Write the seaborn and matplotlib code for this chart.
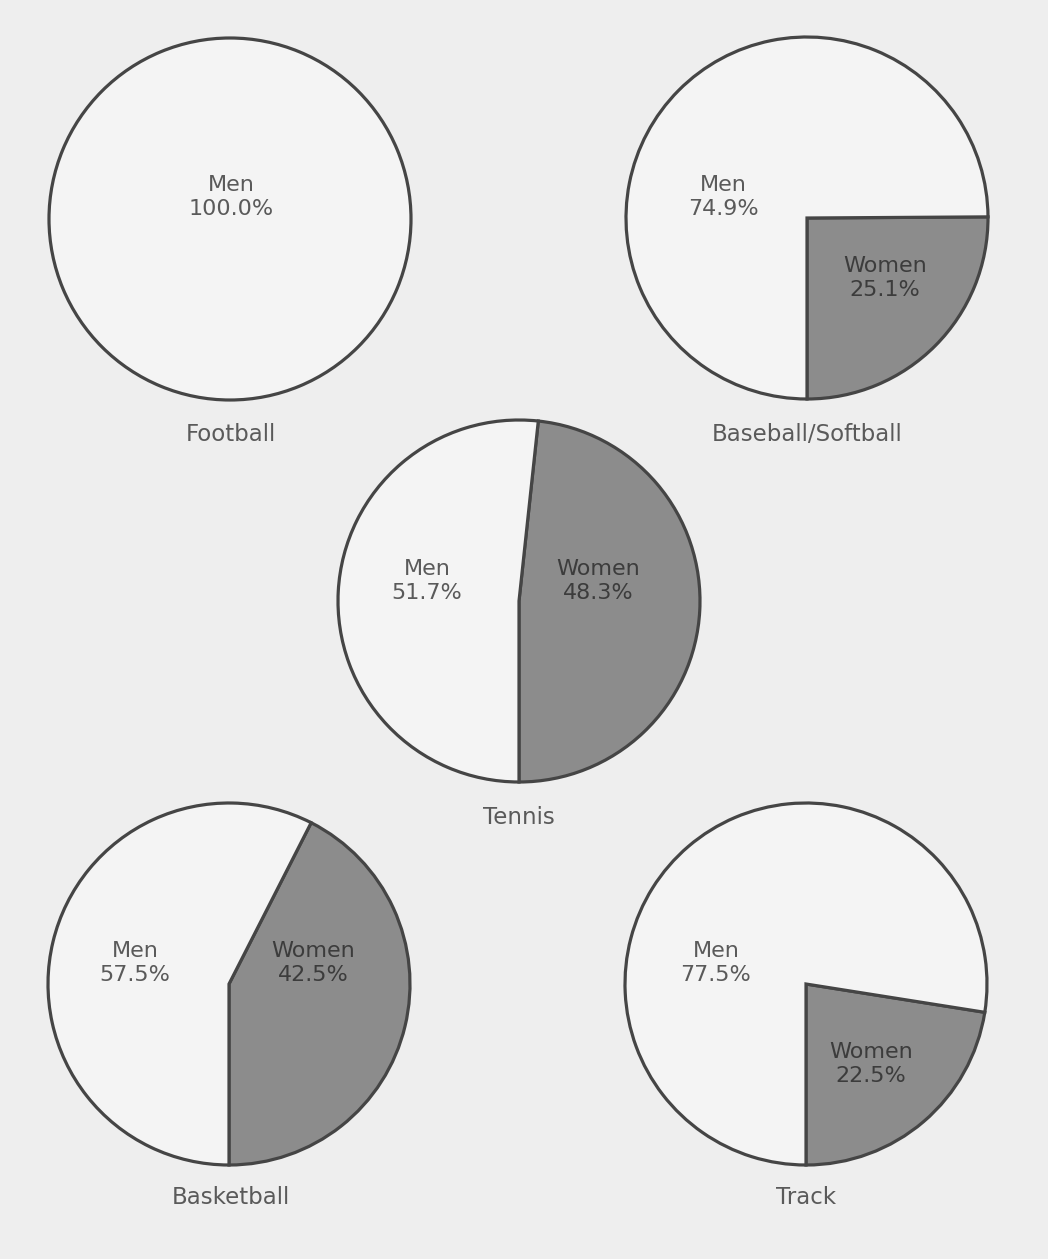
import matplotlib
matplotlib.use("Agg")
import matplotlib.pyplot as plt
import seaborn as sns

# ---- data ----
sports = ["Football", "Baseball/Softball", "Tennis", "Basketball", "Track"]
men_pct = [100.0, 74.9, 51.7, 57.5, 77.5]
women_pct = [0.0, 25.1, 48.3, 42.5, 22.5]
groups = ["Men", "Women"]

# ---- layout (pixel positions, y measured from top) ----
W, H = 1048, 1259
centers = [(230, 219), (807, 218), (519, 601), (229, 984), (806, 984)]
radius = 181
men_label_pos = [(231, 197), (723, 197), (427, 581), (135, 963), (716, 963)]
women_label_pos = [None, (885, 278), (598, 581), (313, 963), (871, 1064)]
title_pos = [(231, 434), (807, 434), (519, 817), (231, 1198), (806, 1198)]

bg = "#eeeeee"
men_color = "#f4f4f4"
women_color = "#8c8c8c"
edge_color = "#454545"
text_color = "#5a5a5a"
women_text = "#3c3c3c"

sns.set_theme(style="white")
plt.rcParams["font.family"] = ["DejaVu Sans"]

fig = plt.figure(figsize=(W / 100, H / 100), dpi=100, facecolor=bg)
ax = fig.add_axes([0, 0, 1, 1])
ax.set_facecolor(bg)

for i, sport in enumerate(sports):
    cx, cy = centers[i]
    vals = [women_pct[i], men_pct[i]]
    cols = [women_color, men_color]
    ax.pie(vals, colors=cols, startangle=-90, counterclock=True,
           center=(cx, H - cy), radius=radius, frame=True,
           wedgeprops=dict(edgecolor=edge_color, linewidth=2.3))
    mx, my = men_label_pos[i]
    ax.text(mx, H - my, f"{groups[0]}\n{men_pct[i]:.1f}%", ha="center", va="center",
            fontsize=16, color=text_color, linespacing=1.2)
    if women_pct[i] > 0:
        wx, wy = women_label_pos[i]
        ax.text(wx, H - wy, f"{groups[1]}\n{women_pct[i]:.1f}%", ha="center", va="center",
                fontsize=16, color=women_text, linespacing=1.2)
    tx, ty = title_pos[i]
    ax.text(tx, H - ty, sport, ha="center", va="center",
            fontsize=16.5, color=text_color)

ax.set_xlim(0, W)
ax.set_ylim(0, H)
ax.set_aspect("equal")
ax.axis("off")
fig.savefig("out.png", dpi=100, facecolor=bg)
